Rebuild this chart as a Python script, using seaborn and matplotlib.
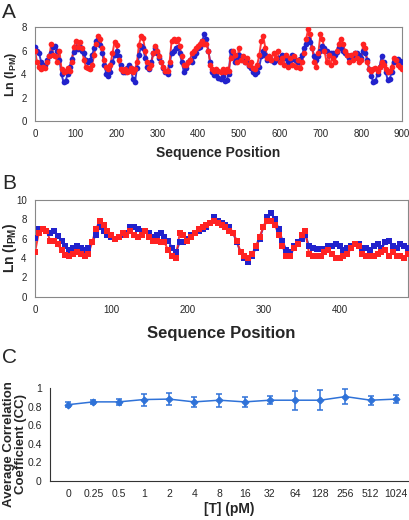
import numpy as np
import pandas as pd
import seaborn as sns
import matplotlib.pyplot as plt

# panel A: Ln(I_PM) every 5 residues, positions 0..900
pos_a = list(range(0, 905, 5))
blue_a = [6.3, 6.0, 5.8, 5.0, 4.7, 4.8, 5.2, 5.5, 5.8, 6.3,
          6.4, 6.0, 5.2, 4.0, 3.3, 3.4, 4.0, 4.6, 5.3, 5.9,
          6.3, 6.1, 6.3, 6.0, 5.8, 5.2, 5.0, 5.2, 5.6, 6.2,
          6.8, 7.0, 6.5, 5.8, 4.8, 4.0, 3.8, 4.2, 5.0, 5.6,
          6.0, 5.5, 4.8, 4.2, 4.2, 4.5, 4.8, 4.5, 3.6, 3.3,
          4.5, 5.6, 6.4, 6.2, 5.4, 4.6, 4.4, 5.0, 5.8, 6.2,
          5.8, 5.4, 5.0, 4.5, 4.2, 4.0, 4.8, 5.8, 6.0, 6.2,
          6.3, 5.8, 5.0, 4.2, 4.5, 5.0, 5.2, 5.0, 5.5, 5.8,
          6.2, 6.3, 6.8, 7.4, 7.0, 6.0, 5.0, 4.2, 3.9, 3.9,
          3.7, 3.6, 3.8, 3.4, 3.5, 4.0, 6.0, 5.8, 5.0, 5.2,
          5.6, 5.4, 5.2, 5.0, 5.0, 4.7, 4.5, 4.2, 4.0, 4.2,
          4.6, 5.5, 6.0, 5.6, 5.2, 5.4, 5.2, 5.0, 5.2, 5.4,
          5.2, 5.6, 5.5, 5.4, 5.0, 5.2, 5.6, 5.3, 5.2, 5.0,
          5.3, 5.6, 6.2, 6.6, 7.0, 6.7, 6.2, 5.5, 5.2, 5.5,
          6.0, 6.4, 6.2, 6.0, 5.6, 5.8, 5.8, 5.6, 5.9, 6.2,
          6.3, 6.0, 5.8, 5.6, 5.4, 5.4, 5.6, 5.8, 5.8, 5.6,
          5.4, 6.0, 5.8, 5.2, 4.4, 3.8, 3.3, 3.4, 4.0, 4.6,
          5.5, 5.0, 4.2, 3.5, 3.6, 4.2, 5.0, 5.2, 5.3, 5.1,
          5.0]
red_a = [6.0, 5.0, 4.6, 4.4, 4.6, 4.5, 5.0, 5.5, 6.6, 5.6,
         5.5, 5.0, 6.0, 4.4, 4.2, 4.3, 4.5, 4.3, 5.0, 6.3,
         6.8, 6.3, 6.7, 6.2, 5.2, 4.6, 4.5, 4.4, 4.8, 5.6,
         6.6, 7.2, 7.0, 6.2, 5.2, 4.6, 4.4, 4.8, 5.8, 6.7,
         6.5, 5.2, 4.4, 4.3, 4.4, 4.2, 4.3, 4.5, 4.2, 4.4,
         5.0, 6.5, 7.2, 7.1, 6.0, 5.0, 4.5, 4.8, 5.8, 6.4,
         6.0, 5.5, 5.0, 4.6, 4.3, 4.3, 5.0, 6.8, 7.0, 6.8,
         7.0, 6.4, 5.5, 4.8, 4.8, 5.0, 5.2, 5.8, 6.0, 6.2,
         6.4, 6.6, 6.8, 6.6, 6.6, 6.0, 4.8, 4.4, 4.3, 4.4,
         4.3, 4.2, 4.4, 4.2, 4.4, 4.3, 5.4, 6.0, 5.6, 5.0,
         6.2, 5.2, 5.5, 5.0, 5.4, 4.8, 5.0, 4.5, 4.4, 4.8,
         5.6, 6.8, 7.2, 6.2, 5.4, 5.5, 5.2, 5.8, 5.4, 6.0,
         5.0, 5.4, 4.8, 5.6, 4.6, 5.4, 4.8, 5.5, 4.6, 5.2,
         4.5, 5.0, 5.8, 7.0, 7.8, 7.4, 6.2, 5.0, 4.6, 5.8,
         7.4, 7.0, 6.0, 5.0, 5.6, 4.8, 5.4, 5.0, 6.0, 6.6,
         7.0, 6.6, 6.0, 5.6, 5.0, 5.6, 5.2, 5.8, 5.4, 5.0,
         5.2, 6.6, 6.2, 5.0, 4.4, 4.3, 4.4, 4.5, 4.3, 4.6,
         5.0, 4.8, 4.4, 4.2, 4.3, 4.6, 5.4, 5.2, 4.8, 4.6,
         4.4]

# panel B: positions 0..490
pos_b = list(range(0, 495, 5))
blue_b = [6.1, 7.0, 7.0, 6.8, 6.6, 6.8, 6.3, 5.8, 5.2, 4.8,
          5.0, 5.2, 5.0, 4.8, 5.0, 5.6, 6.4, 7.2, 6.8, 6.4,
          6.2, 6.0, 6.2, 6.4, 6.6, 7.2, 7.2, 7.0, 6.8, 6.8,
          6.6, 6.2, 6.4, 6.6, 6.2, 5.8, 5.0, 4.6, 5.6, 5.6,
          6.0, 6.4, 6.6, 6.8, 7.0, 7.2, 7.6, 8.2, 7.8, 7.6,
          7.4, 7.2, 6.6, 5.6, 4.6, 4.0, 3.6, 4.2, 5.0, 6.0,
          7.2, 8.2, 8.6, 8.0, 7.0, 5.8, 4.8, 4.6, 5.2, 5.6,
          6.0, 6.4, 5.2, 5.0, 4.9, 4.9, 4.9, 5.2, 5.2, 5.4,
          5.2, 4.8, 5.0, 5.2, 5.4, 5.4, 5.0, 5.0, 4.8, 5.2,
          5.4, 5.0, 5.6, 5.8, 5.2, 5.0, 5.4, 5.2, 5.0]
red_b = [4.6, 6.6, 7.0, 6.8, 5.8, 5.8, 5.4, 4.8, 4.3, 4.2,
         4.4, 4.6, 4.4, 4.2, 4.4, 5.6, 7.0, 7.8, 7.4, 6.8,
         6.4, 6.0, 6.2, 6.6, 6.4, 6.8, 6.4, 6.2, 6.4, 6.8,
         6.2, 5.8, 5.8, 5.6, 5.6, 4.8, 4.2, 4.0, 6.6, 6.4,
         5.8, 6.2, 6.6, 7.0, 7.2, 7.4, 7.6, 7.8, 7.6, 7.4,
         7.2, 6.8, 6.6, 5.8, 4.6, 4.2, 4.0, 4.4, 5.2, 6.2,
         7.2, 7.8, 7.8, 7.4, 6.4, 5.2, 4.2, 4.2, 5.0, 5.4,
         6.4, 6.8, 4.4, 4.2, 4.2, 4.2, 4.6, 4.8, 4.4, 4.0,
         4.0, 4.2, 4.4, 5.0, 5.4, 5.2, 4.4, 4.2, 4.2, 4.2,
         4.4, 4.6, 4.8, 4.2, 4.6, 4.2, 4.2, 4.0, 4.4]

# panel C
conc = ["0", "0.25", "0.5", "1", "2", "4", "8", "16", "32", "64",
        "128", "256", "512", "1024"]
cc_mean = [0.82, 0.85, 0.85, 0.875, 0.88, 0.85, 0.868, 0.85, 0.868,
           0.868, 0.868, 0.907, 0.868, 0.88]
cc_err = [0.025, 0.02, 0.036, 0.064, 0.066, 0.054, 0.07, 0.05, 0.04,
          0.1, 0.11, 0.08, 0.05, 0.04]

sns.set_style("white")
plt.rcParams['font.family'] = ['Liberation Sans', 'DejaVu Sans']
plt.rcParams['mathtext.fontset'] = 'custom'
plt.rcParams['mathtext.bf'] = 'Liberation Sans:bold'
plt.rcParams['mathtext.rm'] = 'Liberation Sans:bold'

BLUE = "#2222cc"
RED = "#ff2222"
CBLUE = "#2f72d8"

fig = plt.figure(figsize=(4.1, 5.2), dpi=100)

df_a = pd.DataFrame({"pos": pos_a + pos_a, "val": blue_a + red_a,
                     "s": ["b"] * len(pos_a) + ["r"] * len(pos_a)})
df_b = pd.DataFrame({"pos": pos_b + pos_b, "val": blue_b + red_b,
                     "s": ["b"] * len(pos_b) + ["r"] * len(pos_b)})


def trace_panel(ax, df, marker, xmax, ymax, xticks, yticks):
    for key, col in (("b", BLUE), ("r", RED)):
        sub = df[df["s"] == key]
        sns.lineplot(data=sub, x="pos", y="val", ax=ax, color=col, lw=1.4,
                     alpha=0.9)
        sns.scatterplot(data=sub, x="pos", y="val", ax=ax, color=col,
                        marker=marker, s=17, linewidth=0, zorder=3)
    ax.set_xlim(0, xmax)
    ax.set_ylim(0, ymax)
    ax.set_xticks(xticks)
    ax.set_yticks(yticks)
    for sp in ax.spines.values():
        sp.set_color("#888888")
        sp.set_linewidth(0.8)
    ax.tick_params(axis="both", direction="out", length=2.5, width=0.7,
                   color="#444444", labelsize=7)
    ax.set_xlabel("Sequence Position", fontsize=10, fontweight="bold")
    ax.set_ylabel(r"Ln (I$_{\mathbf{PM}}$)", fontsize=9, fontweight="bold")


ax_a = fig.add_axes([0.0854, 0.767, 0.895, 0.181])
trace_panel(ax_a, df_a, "o", 900, 8, range(0, 901, 100), range(0, 9, 2))
ax_a.xaxis.labelpad = 5
ax_a.yaxis.set_label_coords(-0.045, 0.5)

ax_b = fig.add_axes([0.0854, 0.429, 0.91, 0.187])
trace_panel(ax_b, df_b, "s", 490, 10, range(0, 401, 100), range(0, 11, 2))
ax_b.set_xticks(range(0, 490, 50), minor=True)
ax_b.tick_params(axis="x", which="minor", direction="out", length=2.5,
                 width=0.7, color="#444444")
ax_b.set_xlabel("Sequence Position", fontsize=12, fontweight="bold",
                labelpad=8)
ax_b.set_ylabel(r"Ln (I$_{\mathbf{PM}}$)", fontsize=10, fontweight="bold")
ax_b.yaxis.set_label_coords(-0.042, 0.5)

# panel C
ax_c = fig.add_axes([0.122, 0.075, 0.873, 0.179])
df_c = pd.DataFrame({"conc": conc, "cc": cc_mean})
sns.pointplot(data=df_c, x="conc", y="cc", ax=ax_c, color=CBLUE,
              markers="D", markersize=3.5, linewidth=1.1, errorbar=None)
ax_c.errorbar(range(len(conc)), cc_mean, yerr=cc_err, fmt="none",
              ecolor=CBLUE, elinewidth=1.1, capsize=2.5, capthick=1.1)
ax_c.set_ylim(0, 1)
ax_c.set_xlim(-0.72, len(conc) - 0.52)
ax_c.set_yticks([0, 0.2, 0.4, 0.6, 0.8, 1])
ax_c.set_yticklabels(["0", "0.2", "0.4", "0.6", "0.8", "1"])
sns.despine(ax=ax_c)
for sp in ("left", "bottom"):
    ax_c.spines[sp].set_color("#333333")
    ax_c.spines[sp].set_linewidth(0.8)
ax_c.tick_params(axis="y", direction="out", length=2.5, width=0.7,
                 labelsize=7.5)
ax_c.tick_params(axis="x", length=0, labelsize=7.5, pad=6)
ax_c.set_xlabel("[T] (pM)", fontsize=10, fontweight="bold", labelpad=2)
ax_c.set_ylabel("Average Correlation\nCoefficient (CC)", fontsize=9.5,
                fontweight="bold", linespacing=1.05)
ax_c.yaxis.set_label_coords(-0.063, 0.4)

fig.text(0.005, 0.975, "A", fontsize=15, va="center")
fig.text(0.005, 0.647, "B", fontsize=15, va="center")
fig.text(0.005, 0.312, "C", fontsize=15, va="center")

fig.savefig("out.png", dpi=100)
